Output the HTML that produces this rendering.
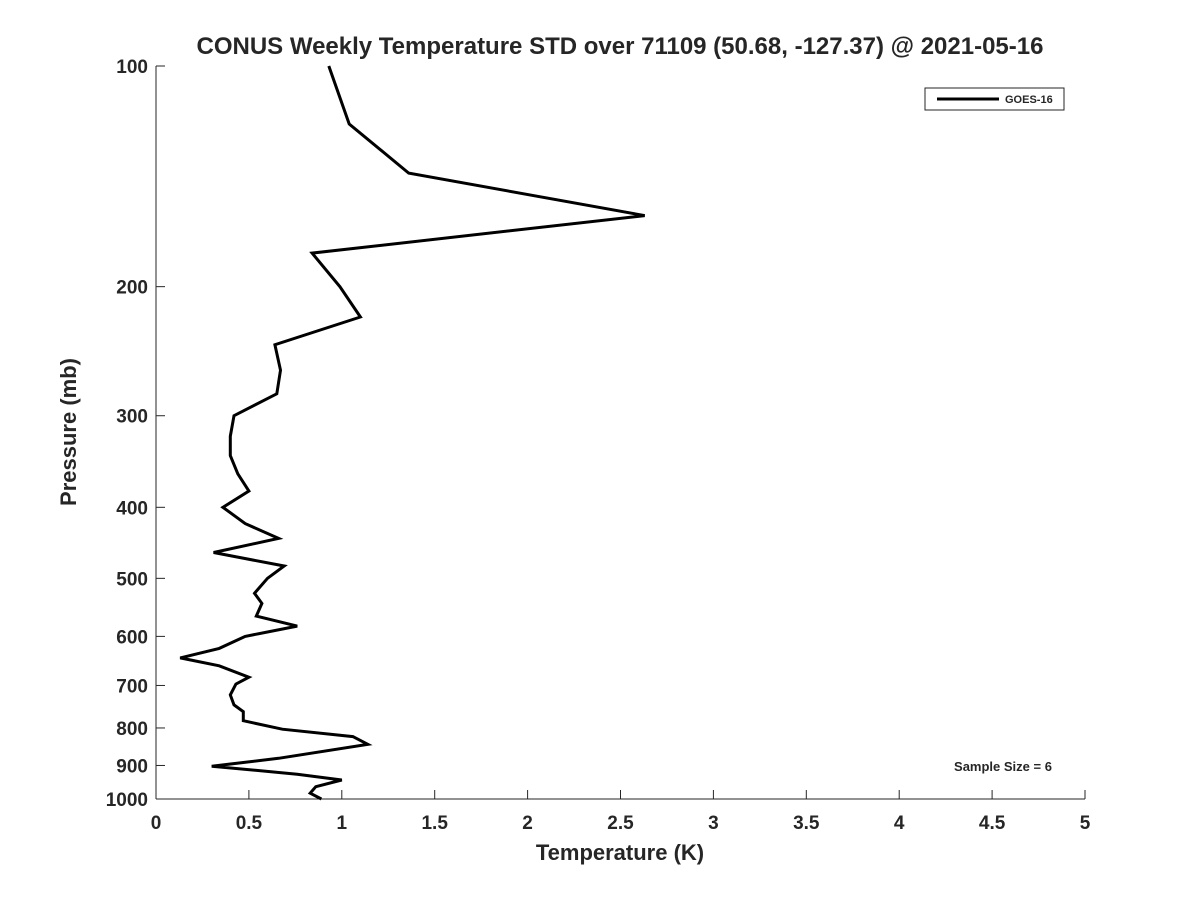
<!DOCTYPE html>
<html><head><meta charset="utf-8"><style>
body{margin:0;background:#fff;}
svg text{font-family:"Liberation Sans","DejaVu Sans",sans-serif;font-weight:bold;fill:#262626;}
</style></head><body>
<svg width="1200" height="900" viewBox="0 0 1200 900">
<rect width="1200" height="900" fill="#fff"/>
<text x="620" y="54" font-size="24" text-anchor="middle" fill="#000">CONUS Weekly Temperature STD over 71109 (50.68, -127.37) @ 2021-05-16</text>
<g id="axes"></g>
<g id="plot"></g>
<rect x="925" y="88" width="139" height="22" fill="#fff" stroke="#262626" stroke-width="1"/>
<line x1="937" y1="99" x2="999" y2="99" stroke="#000" stroke-width="3"/>
<text x="1005" y="103" font-size="11" fill="#000">GOES-16</text>
<text x="1003" y="771" font-size="13" text-anchor="middle" fill="#000">Sample Size = 6</text>
<text x="620" y="860" font-size="22" text-anchor="middle">Temperature (K)</text>
<text transform="translate(76,432) rotate(-90)" font-size="22" text-anchor="middle">Pressure (mb)</text>
</svg>
<script>
const pressures=[100,120,140,160,180,200,220,240,260,280,300,320,340,360,380,400,421,441,461,481,500,517,524,541,563,581,600,623,642,658,682,697,721,744,760,782,803,822,842,880,902,925,942,962,982,1000];
const stdValues=[0.93,1.04,1.36,2.63,0.84,0.99,1.10,0.64,0.67,0.65,0.42,0.40,0.40,0.44,0.50,0.36,0.48,0.66,0.31,0.69,0.60,0.55,0.53,0.57,0.54,0.76,0.48,0.34,0.13,0.34,0.50,0.43,0.40,0.42,0.47,0.47,0.68,1.06,1.14,0.66,0.30,0.76,1.00,0.86,0.83,0.89];
const xTicks=[0,0.5,1,1.5,2,2.5,3,3.5,4,4.5,5];
const yTicks=[100,200,300,400,500,600,700,800,900,1000];
const L=156,R=1085,T=66,B=799;
const xs=v=>L+(v-0)/5*(R-L);
const ys=p=>T+Math.log10(p/100)*(B-T);
const NS="http://www.w3.org/2000/svg";
const axes=document.getElementById('axes'),plot=document.getElementById('plot');
function mk(tag,attrs,parent){const e=document.createElementNS(NS,tag);for(const k in attrs)e.setAttribute(k,attrs[k]);parent.appendChild(e);return e;}
let e=mk('line',{x1:L,y1:T,x2:L,y2:B,stroke:'#262626','stroke-width':1},axes);


e=mk('line',{x1:L,y1:B,x2:R,y2:B,stroke:'#262626','stroke-width':1},axes);


xTicks.forEach(v=>{const x=xs(v);
 let t=mk('line',{x1:x,y1:B,x2:x,y2:B-9,stroke:'#262626'},axes);
 
 
 let l=mk('text',{x:x,y:B+30,'font-size':19,'text-anchor':'middle'},axes);l.textContent=String(v);
 
 
});
yTicks.forEach(p=>{const y=ys(p);
 let t=mk('line',{x1:L,y1:y,x2:L+9,y2:y,stroke:'#262626'},axes);
 
 
 let l=mk('text',{x:L-8,y:y+7,'font-size':19,'text-anchor':'end'},axes);l.textContent=String(p);
 
 
});
const pts=pressures.map((p,i)=>xs(stdValues[i]).toFixed(1)+','+ys(p).toFixed(1)).join(' ');
const line=mk('polyline',{points:pts,fill:'none',stroke:'#000','stroke-width':3,'stroke-linejoin':'miter'},plot);


</script>
</body></html>
